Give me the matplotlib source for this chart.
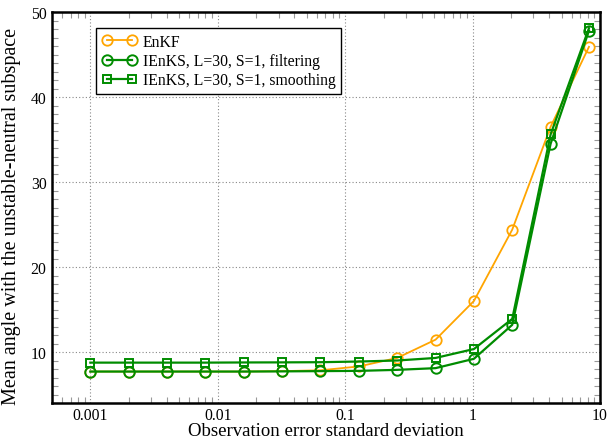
import matplotlib
matplotlib.use("Agg")
import matplotlib.pyplot as plt
from matplotlib.ticker import LogLocator, FixedLocator, MultipleLocator, FuncFormatter

plt.rcParams['font.family'] = ['Liberation Serif', 'DejaVu Serif']

sigma = [0.001, 0.002, 0.004, 0.008, 0.016, 0.032, 0.064, 0.128, 0.256, 0.512,
         1.024, 2.048, 4.096, 8.192]
enkf = [7.7, 7.7, 7.7, 7.7, 7.7, 7.75, 7.85, 8.3, 9.3, 11.45, 16.0, 24.4, 36.5, 45.9]
ienks_filt = [7.7, 7.7, 7.7, 7.7, 7.7, 7.72, 7.75, 7.78, 7.9, 8.1, 9.2, 13.2, 34.5, 47.8]
ienks_smooth = [8.75, 8.75, 8.75, 8.75, 8.77, 8.78, 8.8, 8.88, 9.0, 9.3, 10.35, 13.9, 35.6, 48.1]

labels = ["EnKF", "IEnKS, L=30, S=1, filtering", "IEnKS, L=30, S=1, smoothing"]
xticks = [0.001, 0.01, 0.1, 1, 10]
yticks = [10, 20, 30, 40, 50]

orange = '#FFA500'
green = '#008C00'

fig = plt.figure(figsize=(6.09, 4.39), dpi=100)
ax = fig.add_axes([52/609, 1-404/439, 548/609, 391/439])

ax.plot(sigma, enkf, color=orange, lw=1.3, marker='o', ms=7.5, mfc='none', mec=orange, mew=1.3, label=labels[0])
ax.plot(sigma, ienks_filt, color=green, lw=1.6, marker='o', ms=7.5, mfc='none', mec=green, mew=1.4, label=labels[1])
ax.plot(sigma, ienks_smooth, color=green, lw=1.6, marker='s', ms=6.3, mfc='none', mec=green, mew=1.4, label=labels[2])

ax.set_xscale('log')
ax.set_xlim(0.0005, 10)
ax.set_ylim(4, 50)
ax.xaxis.set_major_locator(FixedLocator(xticks))
ax.xaxis.set_major_formatter(FuncFormatter(lambda v, p: ('%g' % v)))
ax.xaxis.set_minor_locator(LogLocator(base=10, subs=range(2, 10)))
ax.xaxis.set_minor_formatter(FuncFormatter(lambda v, p: ''))
ax.yaxis.set_major_locator(FixedLocator(yticks))
ax.yaxis.set_minor_locator(MultipleLocator(1))

ax.grid(True, which='major', color='#888888', linestyle=(0, (1, 2)), lw=0.8)
ax.tick_params(which='both', direction='in', top=True, right=True, colors='#999999',
               labelcolor='black', labelsize=11.3)
ax.tick_params(which='major', length=0)
ax.tick_params(axis='x', which='major', pad=3)
ax.tick_params(axis='y', which='major', pad=4)
ax.tick_params(which='minor', length=4, width=0.8)
for s in ax.spines.values():
    s.set_linewidth(1.8)
    s.set_color('black')

ax.set_xlabel("Observation error standard deviation", fontsize=13.5, labelpad=-1)
ax.set_ylabel("Mean angle with the unstable-neutral subspace", fontsize=14.5, labelpad=3)
ax.yaxis.set_label_coords(-0.057, 0.48)

leg = ax.legend(loc='upper left', bbox_to_anchor=(0.081, 0.958), numpoints=2, fontsize=11.3,
                frameon=True, fancybox=False, edgecolor='black', handlelength=2.2,
                handletextpad=0.4, borderpad=0.35, labelspacing=0.2, borderaxespad=0)
leg.get_frame().set_linewidth(1.0)
leg.get_frame().set_alpha(1)

fig.savefig('out.png', dpi=100)
